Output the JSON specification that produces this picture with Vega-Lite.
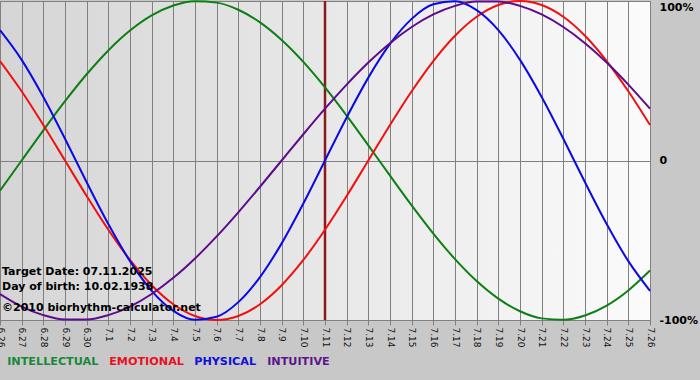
{
  "$schema": "https://vega.github.io/schema/vega-lite/v6.json",
  "width": 650,
  "height": 319,
  "autosize": {"type": "none"},
  "padding": {"left": 0, "top": 1, "right": 50, "bottom": 60},
  "background": "#c8c8c8",
  "view": {
    "fill": {"gradient": "linear", "x1": 0, "y1": 0, "x2": 1, "y2": 0,
      "stops": [{"offset": 0, "color": "#d5d5d5"}, {"offset": 1, "color": "#fbfbfb"}]},
    "stroke": "#808080"
  },
  "config": {"font": "DejaVu Sans"},
  "datasets": {
    "curves": [
      {"d": "2025-06-26", "INTELLECTUAL": -18.93, "EMOTIONAL": 62.35, "PHYSICAL": 81.70, "INTUITIVE": -83.72},
      {"d": "2025-06-27", "INTELLECTUAL": 0, "EMOTIONAL": 43.39, "PHYSICAL": 63.11, "INTUITIVE": -91.58},
      {"d": "2025-06-28", "INTELLECTUAL": 18.93, "EMOTIONAL": 22.25, "PHYSICAL": 39.84, "INTUITIVE": -96.94},
      {"d": "2025-06-29", "INTELLECTUAL": 37.17, "EMOTIONAL": 0, "PHYSICAL": 13.62, "INTUITIVE": -99.66},
      {"d": "2025-06-30", "INTELLECTUAL": 54.06, "EMOTIONAL": -22.25, "PHYSICAL": -13.62, "INTUITIVE": -99.66},
      {"d": "2025-07-01", "INTELLECTUAL": 69.01, "EMOTIONAL": -43.39, "PHYSICAL": -39.84, "INTUITIVE": -96.94},
      {"d": "2025-07-02", "INTELLECTUAL": 81.46, "EMOTIONAL": -62.35, "PHYSICAL": -63.11, "INTUITIVE": -91.58},
      {"d": "2025-07-03", "INTELLECTUAL": 90.96, "EMOTIONAL": -78.18, "PHYSICAL": -81.70, "INTUITIVE": -83.72},
      {"d": "2025-07-04", "INTELLECTUAL": 97.18, "EMOTIONAL": -90.10, "PHYSICAL": -94.23, "INTUITIVE": -73.57},
      {"d": "2025-07-05", "INTELLECTUAL": 99.89, "EMOTIONAL": -97.49, "PHYSICAL": -99.77, "INTUITIVE": -61.42},
      {"d": "2025-07-06", "INTELLECTUAL": 98.98, "EMOTIONAL": -100, "PHYSICAL": -97.91, "INTUITIVE": -47.59},
      {"d": "2025-07-07", "INTELLECTUAL": 94.50, "EMOTIONAL": -97.49, "PHYSICAL": -88.79, "INTUITIVE": -32.47},
      {"d": "2025-07-08", "INTELLECTUAL": 86.60, "EMOTIONAL": -90.10, "PHYSICAL": -73.08, "INTUITIVE": -16.46},
      {"d": "2025-07-09", "INTELLECTUAL": 75.57, "EMOTIONAL": -78.18, "PHYSICAL": -51.96, "INTUITIVE": 0},
      {"d": "2025-07-10", "INTELLECTUAL": 61.82, "EMOTIONAL": -62.35, "PHYSICAL": -26.98, "INTUITIVE": 16.46},
      {"d": "2025-07-11", "INTELLECTUAL": 45.82, "EMOTIONAL": -43.39, "PHYSICAL": 0, "INTUITIVE": 32.47},
      {"d": "2025-07-12", "INTELLECTUAL": 28.17, "EMOTIONAL": -22.25, "PHYSICAL": 26.98, "INTUITIVE": 47.59},
      {"d": "2025-07-13", "INTELLECTUAL": 9.51, "EMOTIONAL": 0, "PHYSICAL": 51.96, "INTUITIVE": 61.42},
      {"d": "2025-07-14", "INTELLECTUAL": -9.51, "EMOTIONAL": 22.25, "PHYSICAL": 73.08, "INTUITIVE": 73.57},
      {"d": "2025-07-15", "INTELLECTUAL": -28.17, "EMOTIONAL": 43.39, "PHYSICAL": 88.79, "INTUITIVE": 83.72},
      {"d": "2025-07-16", "INTELLECTUAL": -45.82, "EMOTIONAL": 62.35, "PHYSICAL": 97.91, "INTUITIVE": 91.58},
      {"d": "2025-07-17", "INTELLECTUAL": -61.82, "EMOTIONAL": 78.18, "PHYSICAL": 99.77, "INTUITIVE": 96.94},
      {"d": "2025-07-18", "INTELLECTUAL": -75.57, "EMOTIONAL": 90.10, "PHYSICAL": 94.23, "INTUITIVE": 99.66},
      {"d": "2025-07-19", "INTELLECTUAL": -86.60, "EMOTIONAL": 97.49, "PHYSICAL": 81.70, "INTUITIVE": 99.66},
      {"d": "2025-07-20", "INTELLECTUAL": -94.50, "EMOTIONAL": 100, "PHYSICAL": 63.11, "INTUITIVE": 96.94},
      {"d": "2025-07-21", "INTELLECTUAL": -98.98, "EMOTIONAL": 97.49, "PHYSICAL": 39.84, "INTUITIVE": 91.58},
      {"d": "2025-07-22", "INTELLECTUAL": -99.89, "EMOTIONAL": 90.10, "PHYSICAL": 13.62, "INTUITIVE": 83.72},
      {"d": "2025-07-23", "INTELLECTUAL": -97.18, "EMOTIONAL": 78.18, "PHYSICAL": -13.62, "INTUITIVE": 73.57},
      {"d": "2025-07-24", "INTELLECTUAL": -90.96, "EMOTIONAL": 62.35, "PHYSICAL": -39.84, "INTUITIVE": 61.42},
      {"d": "2025-07-25", "INTELLECTUAL": -81.46, "EMOTIONAL": 43.39, "PHYSICAL": -63.11, "INTUITIVE": 47.59},
      {"d": "2025-07-26", "INTELLECTUAL": -69.01, "EMOTIONAL": 22.25, "PHYSICAL": -81.70, "INTUITIVE": 32.47}
    ],
    "target": [{"d": "2025-07-11"}],
    "notes": [
      {"d": "2025-06-26", "y": -69.6, "t": "Target Date: 07.11.2025"},
      {"d": "2025-06-26", "y": -79.6, "t": "Day of birth: 10.02.1938"},
      {"d": "2025-06-26", "y": -92.2, "t": "©2010 biorhythm-calculator.net"}
    ]
  },
  "layer": [
    {
      "data": {"name": "target"},
      "mark": {"type": "rule", "color": "#8b1a1a", "strokeWidth": 2.5},
      "encoding": {
        "x": {"field": "d", "type": "temporal"}
      }
    },
    {
      "data": {"name": "curves"},
      "transform": [{"fold": ["INTELLECTUAL", "EMOTIONAL", "PHYSICAL", "INTUITIVE"], "as": ["series", "value"]}],
      "mark": {"type": "line", "interpolate": "monotone", "strokeWidth": 2},
      "encoding": {
        "x": {
          "field": "d", "type": "temporal",
          "scale": {"type": "utc", "nice": false},
          "axis": {
            "title": null, "format": "%-m.%-d", "tickCount": {"interval": "day", "step": 1},
            "labelAngle": 90, "labelFontSize": 9, "labelColor": "#111111", "labelPadding": 2,
            "labelOverlap": false, "labelFlush": false,
            "grid": true, "gridColor": "#808080", "gridOpacity": 1, "gridWidth": 1,
            "domainColor": "#808080", "tickColor": "#808080", "tickSize": 5
          }
        },
        "y": {
          "field": "value", "type": "quantitative",
          "scale": {"domain": [-100, 100], "nice": false, "zero": false},
          "axis": {
            "title": null, "orient": "right", "values": [-100, 0, 100],
            "labelExpr": "datum.value == 0 ? '0' : datum.value + '%'",
            "labelBaseline": {"condition": {"test": "datum.value == 100", "value": "top"}, "value": "middle"},
            "labelFontSize": 11, "labelFontWeight": "bold", "labelColor": "#000000", "labelPadding": 9,
            "labelFlush": false, "labelOverlap": false,
            "ticks": false, "domain": false,
            "grid": true, "gridColor": "#808080", "gridOpacity": 1, "gridWidth": 1
          }
        },
        "color": {
          "field": "series", "type": "nominal",
          "scale": {"domain": ["INTELLECTUAL", "EMOTIONAL", "PHYSICAL", "INTUITIVE"],
                    "range": ["#0d7f14", "#f01010", "#0a0ae6", "#5c0c8c"]},
          "legend": {
            "title": null, "orient": "bottom", "direction": "horizontal",
            "symbolOpacity": 0, "symbolSize": 16, "symbolStrokeWidth": 0, "labelOffset": -4,
            "columnPadding": 3, "offset": 8, "padding": 0,
            "labelFontSize": 11.2, "labelFontWeight": "bold",
            "labelColor": {"expr": "datum.label == 'INTELLECTUAL' ? '#17893a' : datum.label == 'EMOTIONAL' ? '#e8101f' : datum.label == 'PHYSICAL' ? '#1010d8' : '#5e148c'"}
          }
        }
      }
    },
    {
      "data": {"name": "notes"},
      "mark": {"type": "text", "align": "left", "baseline": "middle", "dx": 2, "fontSize": 11, "fontWeight": "bold", "color": "#000000"},
      "encoding": {
        "x": {"field": "d", "type": "temporal"},
        "y": {"field": "y", "type": "quantitative"},
        "text": {"field": "t"}
      }
    }
  ]
}
